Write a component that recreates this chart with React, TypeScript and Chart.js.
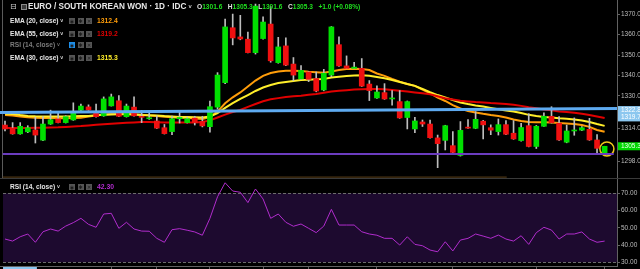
import React, { useEffect, useRef } from 'react';
import { Chart, registerables } from 'chart.js';

Chart.register(...registerables);

// ---------------- data (EUR/KRW daily, IDC) ----------------
const opens = [
  1315.7, 1314.2, 1311.4, 1312.4, 1313.3, 1308.3, 1316.2, 1318.7, 1316.9, 1318.2,
  1323.0, 1324.6, 1321.8, 1320.2, 1325.1, 1327.6, 1319.8, 1324.5, 1319.8, 1318.8,
  1317.7, 1314.4, 1312.5, 1318.8, 1316.9, 1319.1, 1317.5, 1314.9, 1324.5, 1336.5,
  1363.4, 1358.9, 1357.8, 1351.2, 1358.1, 1365.2, 1346.3, 1354.5, 1345.6, 1338.3,
  1341.7, 1338.5, 1332.9, 1340.2, 1355.1, 1344.7, 1343.5, 1343.5, 1335.8, 1329.0,
  1331.6, 1328.5, 1327.2, 1319.4, 1313.8, 1317.2, 1316.2, 1309.4, 1308.2, 1305.6,
  1300.8, 1314.5, 1314.1, 1317.6, 1314.4, 1312.5, 1315.9, 1311.7, 1308.1, 1315.4,
  1305.2, 1315.1, 1320.0, 1316.6, 1307.3, 1312.8, 1313.2, 1313.6, 1308.4, 1301.6,
];
const highs = [
  1317.7, 1316.9, 1316.9, 1315.4, 1319.5, 1319.8, 1323.0, 1321.6, 1320.3, 1326.6,
  1326.0, 1325.6, 1326.0, 1329.5, 1330.9, 1330.1, 1326.0, 1329.5, 1322.9, 1322.0,
  1320.2, 1316.0, 1320.1, 1322.0, 1319.6, 1320.0, 1320.0, 1327.5, 1341.4, 1367.7,
  1370.1, 1369.5, 1361.3, 1375.0, 1368.8, 1373.8, 1358.7, 1358.4, 1348.8, 1344.8,
  1342.0, 1341.7, 1343.0, 1364.0, 1358.9, 1349.6, 1346.5, 1348.3, 1337.5, 1334.9,
  1336.0, 1332.6, 1332.6, 1327.5, 1319.5, 1318.2, 1318.2, 1310.8, 1315.6, 1312.5,
  1317.4, 1318.4, 1322.3, 1318.0, 1315.8, 1318.7, 1317.9, 1317.9, 1316.6, 1321.3,
  1315.5, 1321.7, 1324.7, 1319.8, 1315.7, 1319.2, 1315.0, 1319.0, 1311.0, 1305.3,
];
const lows = [
  1312.8, 1311.2, 1311.2, 1312.0, 1306.9, 1308.0, 1316.0, 1316.7, 1316.7, 1318.0,
  1322.8, 1322.9, 1319.6, 1320.0, 1325.0, 1319.8, 1319.6, 1320.0, 1316.9, 1318.5,
  1314.0, 1311.3, 1311.0, 1316.7, 1316.7, 1315.7, 1314.8, 1312.2, 1323.5, 1336.0,
  1355.0, 1357.5, 1351.0, 1350.5, 1357.8, 1346.5, 1346.0, 1344.8, 1337.4, 1338.0,
  1337.0, 1332.0, 1332.5, 1339.4, 1344.5, 1343.3, 1343.3, 1334.6, 1327.7, 1328.8,
  1328.3, 1325.4, 1319.0, 1313.8, 1312.0, 1315.0, 1309.3, 1294.8, 1303.5, 1302.0,
  1300.5, 1314.0, 1313.9, 1308.9, 1311.0, 1310.8, 1311.0, 1308.7, 1307.8, 1305.0,
  1304.2, 1315.0, 1316.7, 1308.2, 1307.0, 1310.7, 1313.0, 1308.2, 1301.5, 1301.6,
];
const closes = [
  1313.8, 1311.4, 1315.1, 1314.4, 1310.8, 1316.2, 1318.3, 1316.9, 1319.8, 1321.8,
  1325.0, 1323.1, 1319.8, 1328.5, 1329.5, 1320.0, 1325.0, 1320.2, 1319.5, 1319.2,
  1314.2, 1311.5, 1318.8, 1319.4, 1318.8, 1316.9, 1315.3, 1324.7, 1340.2, 1363.8,
  1358.4, 1357.9, 1351.2, 1374.0, 1366.2, 1347.2, 1354.0, 1345.1, 1340.2, 1342.5,
  1338.1, 1332.4, 1341.1, 1363.8, 1344.7, 1343.5, 1344.1, 1334.8, 1332.6, 1331.9,
  1328.5, 1328.9, 1319.2, 1327.2, 1317.7, 1316.2, 1309.5, 1306.6, 1315.4, 1302.3,
  1313.1, 1314.2, 1318.5, 1315.8, 1313.2, 1315.9, 1311.2, 1308.9, 1314.5, 1305.2,
  1315.1, 1320.0, 1316.9, 1308.4, 1312.8, 1313.2, 1314.4, 1308.4, 1304.3, 1305.3,
];
const ema20 = [
  1320.6, 1320.4, 1319.9, 1319.5, 1319.3, 1319.2, 1319.1, 1319.0, 1319.0, 1319.1,
  1319.3, 1319.9, 1320.4, 1320.9, 1321.1, 1321.1, 1321.1, 1321.0, 1320.8, 1320.4,
  1320.1, 1319.8, 1319.5, 1319.3, 1319.1, 1318.9, 1318.7, 1319.6, 1322.3, 1326.4,
  1329.3, 1331.7, 1334.6, 1337.5, 1339.8, 1341.2, 1342.0, 1342.3, 1342.3, 1342.2,
  1341.8, 1341.6, 1341.4, 1342.0, 1342.7, 1343.2, 1343.3, 1343.2, 1342.7, 1341.0,
  1339.8, 1338.3, 1337.0, 1335.8, 1334.9, 1333.1, 1331.3, 1329.2, 1327.5, 1325.5,
  1323.8, 1322.6, 1321.9, 1321.2, 1320.6, 1320.1, 1319.4, 1318.4, 1317.7, 1317.2,
  1317.1, 1317.1, 1317.0, 1316.7, 1316.5, 1316.2, 1315.7, 1314.8, 1313.3, 1312.4,
];
const ema55 = [
  1314.2, 1314.2, 1314.3, 1314.3, 1314.4, 1314.4, 1314.5, 1314.6, 1314.8, 1315.0,
  1315.2, 1315.5, 1315.8, 1316.1, 1316.4, 1316.6, 1316.8, 1317.0, 1317.2, 1317.2,
  1317.1, 1317.0, 1317.0, 1317.0, 1317.0, 1317.0, 1317.2, 1318.0, 1319.4, 1320.8,
  1322.1, 1323.1, 1324.6, 1326.0, 1327.4, 1328.3, 1328.9, 1329.4, 1329.8, 1330.1,
  1330.5, 1330.9, 1331.5, 1332.1, 1332.5, 1332.8, 1333.1, 1333.3, 1333.4, 1333.4,
  1333.2, 1332.9, 1332.5, 1332.1, 1331.7, 1331.3, 1330.8, 1329.8, 1328.8, 1328.2,
  1327.6, 1327.3, 1327.0, 1326.8, 1326.5, 1326.3, 1326.0, 1325.7, 1325.1, 1324.4,
  1323.9, 1323.3, 1322.9, 1322.4, 1322.1, 1321.7, 1321.2, 1320.6, 1319.9, 1319.2,
];
const ema30 = [
  1321.3, 1321.1, 1320.6, 1320.2, 1320.0, 1319.9, 1319.9, 1319.9, 1319.9, 1320.0,
  1320.1, 1320.2, 1320.5, 1320.7, 1320.9, 1321.0, 1321.0, 1320.9, 1320.6, 1320.5,
  1320.4, 1320.1, 1319.9, 1319.7, 1319.6, 1319.5, 1319.4, 1319.9, 1321.5, 1324.1,
  1326.4, 1328.5, 1330.4, 1332.4, 1334.1, 1335.3, 1336.3, 1336.8, 1337.3, 1337.8,
  1337.9, 1338.1, 1338.3, 1339.0, 1339.4, 1339.8, 1340.0, 1340.1, 1339.9, 1339.3,
  1338.6, 1337.8, 1336.8, 1335.8, 1334.9, 1333.4, 1331.8, 1330.4, 1329.2, 1328.0,
  1326.8, 1326.0, 1325.3, 1324.8, 1324.1, 1323.4, 1322.8, 1322.3, 1321.6, 1320.7,
  1320.1, 1319.6, 1319.4, 1319.0, 1318.8, 1318.4, 1317.9, 1317.2, 1316.2, 1315.3,
];
const rsi14 = [
  43.5, 42.3, 44.8, 46.4, 41.6, 47.7, 49.3, 48.1, 51.0, 53.0,
  55.5, 52.0, 50.3, 58.0, 58.4, 49.7, 53.2, 49.3, 48.1, 48.0,
  43.9, 41.6, 48.9, 49.5, 48.6, 47.6, 45.7, 55.5, 68.0, 76.1,
  71.3, 70.6, 64.6, 72.5, 66.7, 55.5, 58.0, 53.2, 50.9, 52.2,
  49.7, 47.2, 51.0, 60.7, 51.6, 51.6, 51.6, 47.7, 46.4, 45.7,
  43.9, 43.9, 40.0, 44.8, 40.4, 39.6, 37.1, 36.1, 41.9, 36.6,
  42.9, 43.9, 46.4, 45.2, 43.9, 45.8, 43.5, 42.3, 45.4, 40.4,
  47.2, 50.3, 48.7, 43.5, 46.4, 46.4, 47.6, 43.5, 41.6, 42.3,
];

const priceTicks = [1298, 1314, 1330, 1340, 1350, 1360, 1370];
const rsiTicks = [30, 40, 50, 60, 70];
const rsiBand = [30, 70];
const timeTicks = [4, 14, 20, 27, 34, 40, 49, 59, 70, 79];

const trendLineX = [-0.7, 80.7];
const trendLineY = [1321.8, 1323.8];
const supportX = [-0.3, 80.2];
const supportY = [1301.5, 1301.5];
const baseLineX = [-0.3, 66.1];
const baseLineY = [1290.2, 1290.2];
const markerX = [79.3];
const markerY = [1304.0];
const trendLabels = [1322.8, 1319.7];
const trendTimeRange = [-0.26, 4.2];

const xRange = [-0.66, 80.63];
const priceRange = [1289.75, 1377.0];
const rsiRange = [27.86, 78.29];

const symbolTitle = 'EURO / SOUTH KOREAN WON · 1D · IDC';

// ---------------- styling ----------------
const UP = '#00e000';
const DOWN = '#f01010';
const WICK = '#bdbdbd';
const C_EMA20 = '#ff9d0a';
const C_EMA55 = '#e00000';
const C_EMA30 = '#ffee2a';
const C_RSI = '#b02ccc';
const AXIS = '#626262';
const TXT = '#bcbcbc';
const FONT = '"Liberation Sans", Arial, sans-serif';

const pts = (xs: number[], ys: number[]) => xs.map((x, i) => ({ x, y: ys[i] }));
const series = (arr: number[]) => arr.map((y, i) => ({ x: i, y }));

function Icons({ x, y, firstBlue }: { x: number; y: number; firstBlue?: boolean }) {
  const glyphs = ['◉', '✱', '✕'];
  return (
    <>
      {glyphs.map((g, k) => (
        <div
          key={k}
          style={{
            position: 'absolute', left: x + k * 8.5, top: y - 3, width: 6, height: 6,
            background: k === 0 && firstBlue ? '#1e8ee8' : '#555555', color: '#1a1a1a',
            fontSize: 5, lineHeight: '6px', textAlign: 'center', fontFamily: '"DejaVu Sans", sans-serif',
          }}
        >{g}</div>
      ))}
    </>
  );
}

function LegendRow({ y, label, value, valueColor, dim, firstBlue }:
  { y: number; label: string; value?: string; valueColor?: string; dim?: boolean; firstBlue?: boolean }) {
  const base: React.CSSProperties = {
    position: 'absolute', top: y - 5, height: 10, lineHeight: '10px', fontFamily: FONT,
    whiteSpace: 'nowrap', fontWeight: 'bold',
  };
  return (
    <>
      <div style={{ ...base, left: 10, fontSize: 6.6, color: dim ? '#7c7c7c' : '#e6e6e6' }}>
        {label} <span style={{ fontSize: 5 }}>˅</span>
      </div>
      <Icons x={69} y={y} firstBlue={firstBlue} />
      {value ? <div style={{ ...base, left: 97, fontSize: 6.8, color: valueColor }}>{value}</div> : null}
    </>
  );
}

export default function App() {
  const mainRef = useRef<HTMLCanvasElement>(null);
  const rsiRef = useRef<HTMLCanvasElement>(null);

  useEffect(() => {
    document.body.style.margin = '0';
    document.body.style.background = '#000';
    const idx = closes.map((_, i) => i);
    const candleColors = idx.map((i) => (closes[i] >= opens[i] ? UP : DOWN));
    const last = closes.length - 1;

    const mainDecor = {
      id: 'mainDecor',
      beforeDatasetsDraw(chart: any) {
        const { ctx, chartArea } = chart;
        ctx.save();
        ctx.fillStyle = '#5a5a5a';
        ctx.fillRect(chartArea.left + 2, 0, 1, chart.height);
        ctx.restore();
      },
      afterDraw(chart: any) {
        const { ctx } = chart;
        const y = chart.scales.y;
        const left = y.left + 1;
        const w = chart.width - left;
        ctx.save();
        const ya = y.getPixelForValue(trendLabels[0]);
        const yb = y.getPixelForValue(trendLabels[1]);
        ctx.fillStyle = '#8cc7ef';
        ctx.fillRect(left, ya - 4.5, w, yb - ya + 9);
        ctx.font = `6.5px ${FONT}`;
        ctx.textBaseline = 'middle';
        ctx.fillStyle = '#ffffff';
        trendLabels.forEach((v) => ctx.fillText(v.toFixed(1), left + 3, y.getPixelForValue(v)));
        const yl = y.getPixelForValue(closes[last]);
        ctx.fillStyle = '#00d800';
        ctx.fillRect(left, yl - 4, w, 8);
        ctx.fillStyle = '#eaffea';
        ctx.fillText(closes[last].toFixed(1), left + 3, yl);
        ctx.restore();
      },
    };

    const main = new Chart(mainRef.current as HTMLCanvasElement, {
      type: 'bar',
      data: {
        datasets: [
          { type: 'line', data: pts(trendLineX, trendLineY), borderColor: '#5eaaf0', borderWidth: 3, pointRadius: 0, order: 0 } as any,
          { type: 'line', data: pts(supportX, supportY), borderColor: '#6b3cbf', borderWidth: 2, pointRadius: 0, order: 0 } as any,
          { type: 'line', data: pts(baseLineX, baseLineY), borderColor: '#5e4018', borderWidth: 1, pointRadius: 0, order: 0 } as any,
          {
            type: 'line', data: pts(markerX, markerY), showLine: false, pointRadius: 7, pointStyle: 'circle',
            pointBorderColor: '#f2c81a', pointBackgroundColor: 'rgba(0,0,0,0)', pointBorderWidth: 1.5, order: 0,
          } as any,
          {
            type: 'bar', data: idx.map((i) => ({ x: i, y: [opens[i], closes[i]] })) as any,
            backgroundColor: candleColors, borderWidth: 0, barThickness: 5, grouped: false, minBarLength: 1, order: 1,
          } as any,
          {
            type: 'bar', data: idx.map((i) => ({ x: i, y: [lows[i], highs[i]] })) as any,
            backgroundColor: WICK, borderWidth: 0, barThickness: 1, grouped: false, order: 2,
          } as any,
          { type: 'line', data: series(ema55), borderColor: C_EMA55, borderWidth: 2, pointRadius: 0, order: 3 } as any,
          { type: 'line', data: series(ema30), borderColor: C_EMA30, borderWidth: 2, pointRadius: 0, order: 3 } as any,
          { type: 'line', data: series(ema20), borderColor: C_EMA20, borderWidth: 2, pointRadius: 0, order: 3 } as any,
        ],
      },
      options: {
        animation: false,
        responsive: false,
        maintainAspectRatio: false,
        events: [],
        layout: { padding: 0, autoPadding: false },
        plugins: { legend: { display: false }, tooltip: { enabled: false } },
        scales: {
          x: { type: 'linear', min: xRange[0], max: xRange[1], display: false, offset: false },
          y: {
            type: 'linear', position: 'right', min: priceRange[0], max: priceRange[1],
            afterBuildTicks: (s: any) => { s.ticks = priceTicks.map((v) => ({ value: v })); },
            afterFit: (s: any) => { s.width = 23; s.paddingTop = 0; s.paddingBottom = 0; },
            grid: { drawOnChartArea: false, drawTicks: true, tickLength: 3, color: AXIS },
            border: { display: true, color: AXIS, width: 1 },
            ticks: { color: TXT, padding: 1, font: { size: 6.5, family: FONT }, callback: (v: any) => Number(v).toFixed(1) },
          },
        },
      } as any,
      plugins: [mainDecor],
    });

    const rsiDecor = {
      id: 'rsiDecor',
      beforeDatasetsDraw(chart: any) {
        const { ctx, chartArea } = chart;
        const y = chart.scales.y;
        const top = y.getPixelForValue(rsiBand[1]);
        const bot = y.getPixelForValue(rsiBand[0]);
        ctx.save();
        ctx.fillStyle = '#1d0a2f';
        ctx.fillRect(chartArea.left + 3, top, chartArea.right - chartArea.left - 3, bot - top);
        ctx.strokeStyle = '#6c6c6c';
        ctx.lineWidth = 1;
        ctx.setLineDash([3, 2]);
        rsiBand.forEach((v) => {
          const py = Math.round(y.getPixelForValue(v)) + 0.5;
          ctx.beginPath();
          ctx.moveTo(chartArea.left + 3, py);
          ctx.lineTo(chartArea.right, py);
          ctx.stroke();
        });
        ctx.restore();
      },
      afterDraw(chart: any) {
        const { ctx, chartArea } = chart;
        const x = chart.scales.x;
        const a = x.getPixelForValue(trendTimeRange[0]);
        const b = x.getPixelForValue(trendTimeRange[1]);
        ctx.save();
        ctx.fillStyle = '#8cc7ef';
        ctx.fillRect(a, chartArea.bottom + 1, b - a, 3);
        ctx.restore();
      },
    };

    const rsiChart = new Chart(rsiRef.current as HTMLCanvasElement, {
      type: 'line',
      data: {
        datasets: [
          { data: series(rsi14), borderColor: C_RSI, borderWidth: 1, pointRadius: 0, tension: 0 } as any,
        ],
      },
      options: {
        animation: false,
        responsive: false,
        maintainAspectRatio: false,
        events: [],
        layout: { padding: 0, autoPadding: false },
        plugins: { legend: { display: false }, tooltip: { enabled: false } },
        scales: {
          x: {
            type: 'linear', min: xRange[0], max: xRange[1], position: 'bottom', offset: false,
            afterBuildTicks: (s: any) => { s.ticks = timeTicks.map((v) => ({ value: v })); },
            afterFit: (s: any) => { s.height = 3; s.paddingLeft = 0; s.paddingRight = 0; },
            ticks: { display: false },
            grid: { drawOnChartArea: false, drawTicks: true, tickLength: 3, color: AXIS },
            border: { display: true, color: AXIS },
          },
          y: {
            type: 'linear', position: 'right', min: rsiRange[0], max: rsiRange[1],
            afterBuildTicks: (s: any) => { s.ticks = rsiTicks.map((v) => ({ value: v })); },
            afterFit: (s: any) => { s.width = 23; s.paddingTop = 0; s.paddingBottom = 0; },
            grid: { drawOnChartArea: false, drawTicks: true, tickLength: 3, color: AXIS },
            border: { display: true, color: AXIS, width: 1 },
            ticks: { color: TXT, padding: 1, font: { size: 6.5, family: FONT }, callback: (v: any) => Number(v).toFixed(2) },
          },
        },
      } as any,
      plugins: [rsiDecor],
    });

    return () => {
      main.destroy();
      rsiChart.destroy();
    };
  }, []);

  const last = closes.length - 1;
  const change = closes[last] - closes[last - 1];
  const pct = (change / closes[last - 1]) * 100;
  const green = '#1fe01f';
  const ohlc: [string, number][] = [['O', opens[last]], ['H', highs[last]], ['L', lows[last]], ['C', closes[last]]];

  return (
    <div style={{ position: 'fixed', left: 0, top: 0, width: 640, height: 269, background: '#000', overflow: 'hidden' }}>
      <canvas ref={mainRef} width={640} height={178} style={{ position: 'absolute', left: 0, top: 0, width: 640, height: 178 }} />
      <div style={{ position: 'absolute', left: 0, top: 178, width: 640, height: 1, background: '#3a3a3a' }} />
      <canvas ref={rsiRef} width={640} height={90} style={{ position: 'absolute', left: 0, top: 179, width: 640, height: 90 }} />

      {/* symbol title row */}
      <div style={{ position: 'absolute', left: 10, top: 2, fontSize: 8, lineHeight: '10px', color: '#cfcfcf', fontFamily: '"DejaVu Sans", sans-serif' }}>⊟</div>
      <div style={{ position: 'absolute', left: 21, top: 4, width: 4, height: 4, background: '#3c3c3c', border: '1px solid #8a8a8a' }} />
      <div style={{ position: 'absolute', left: 28, top: 1.5, fontSize: 8.2, lineHeight: '10px', fontWeight: 'bold', color: '#e8e8e8', fontFamily: FONT, whiteSpace: 'nowrap' }}>
        {symbolTitle} <span style={{ fontSize: 5.5 }}>˅</span>
      </div>
      <div style={{ position: 'absolute', left: 197, top: 2, fontSize: 6.6, lineHeight: '10px', fontWeight: 'bold', fontFamily: FONT, whiteSpace: 'nowrap', color: green }}>
        {ohlc.map(([k, v]) => (
          <span key={k} style={{ marginRight: 5.5 }}><span style={{ color: '#e0e0e0' }}>{k}</span>{v.toFixed(1)}</span>
        ))}
        <span>{(change >= 0 ? '+' : '') + change.toFixed(1)} ({(pct >= 0 ? '+' : '') + pct.toFixed(2)}%)</span>
      </div>

      {/* indicator legends */}
      <LegendRow y={20.7} label="EMA (20, close)" value={ema20[last].toFixed(1)} valueColor={C_EMA20} />
      <LegendRow y={33.7} label="EMA (55, close)" value={ema55[last].toFixed(1)} valueColor={C_EMA55} />
      <LegendRow y={44.7} label="RSI (14, close)" dim firstBlue />
      <LegendRow y={58.3} label="EMA (30, close)" value={ema30[last].toFixed(1)} valueColor={C_EMA30} />
      <LegendRow y={186.7} label="RSI (14, close)" value={rsi14[last].toFixed(2)} valueColor={C_RSI} />
    </div>
  );
}
